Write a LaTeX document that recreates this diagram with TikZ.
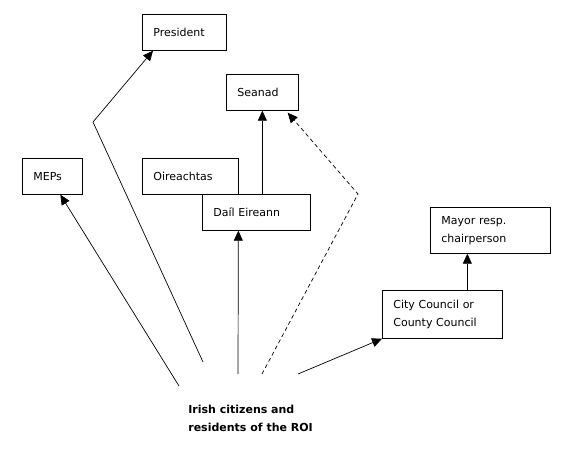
\documentclass[tikz,border=0pt]{standalone}
\usepackage{fontspec}
\setmainfont{DejaVu Sans}
\usetikzlibrary{arrows.meta}

\tikzset{
  box/.style={draw=black, fill=white, anchor=north west, align=left, inner xsep=11pt, inner ysep=0pt},
  arr/.style={-{Triangle[length=10pt,width=9pt]}, line width=0.7pt}
}

\begin{document}
\begin{tikzpicture}[x=1pt, y=-1pt, line width=0.7pt, font=\fontsize{11}{18}\selectfont]

   \useasboundingbox (0,0) rectangle (564,469);

   \node[box, text width=62pt, minimum height=36pt] (president) at (142,14) {President};
   \node[box, text width=50pt, minimum height=36pt] (seanad) at (226,74) {Seanad};
   \node[box, text width=74pt, minimum height=36pt] (oireachtas) at (142,158) {Oireachtas};
   \node[box, text width=86pt, minimum height=36pt] (dail) at (202,194) {Daíl Eireann};
   \node[box, text width=38pt, minimum height=36pt] (meps) at (22,158) {MEPs};
   \node[box, text width=98pt, minimum height=46pt] (mayor) at (430,207) {Mayor resp.\\chairperson};
   \node[box, text width=98pt, minimum height=48pt] (city) at (382,290) {City Council or\\County Council};

   \node[anchor=west, align=left, inner sep=0pt, font=\fontsize{11}{18}\selectfont\bfseries] (citizens) at (188,418) {Irish citizens and\\residents of the ROI};

   \coordinate (pbend) at (93,122);
   \coordinate (sbend) at (358,194);
   \coordinate (p0) at (203,362);
   \coordinate (m0) at (179,386);
   \coordinate (d0) at (238,374);
   \coordinate (s0) at (262,374);
   \coordinate (c0) at (298,374);

   \draw[arr] (p0) -- (pbend) -- ([xshift=11pt]president.south west);
   \draw[arr] (m0) -- ([xshift=8pt]meps.south);
   \draw[arr] (d0) -- ([xshift=-18pt]dail.south);
   \draw[arr] (seanad.south |- dail.north) -- (seanad.south);
   \draw[arr, dash pattern=on 4pt off 3pt] (s0) -- (sbend) -- ([xshift=-11pt,yshift=-2pt]seanad.south east);
   \draw[arr] (c0) -- (city.south west);
   \draw[arr] ([xshift=25pt]city.north) -- ([xshift=-23pt]mayor.south);

\end{tikzpicture}
\end{document}
